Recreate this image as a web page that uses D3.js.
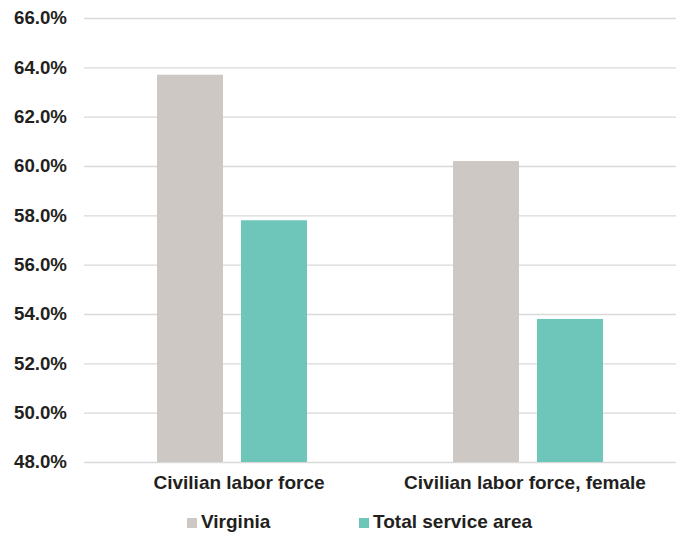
<!DOCTYPE html>
<html>
<head>
<meta charset="utf-8">
<script src="https://cdn.jsdelivr.net/npm/d3@7"></script>
<style>
  html, body { margin: 0; padding: 0; background: #fff; }
  svg { display: block; }
  text { font-family: "Liberation Sans", Arial, Helvetica, sans-serif; font-weight: bold; fill: #231f20; }
</style>
</head>
<body>
<svg id="chart" width="681" height="533"></svg>
<script>
// Labor force participation rates (%)
const categories = ["Civilian labor force", "Civilian labor force, female"];
const seriesNames = ["Virginia", "Total service area"];
const virginia = [63.7, 60.2];
const serviceArea = [57.8, 53.8];
const yTicks = [48, 50, 52, 54, 56, 58, 60, 62, 64, 66];
const colors = ["#cdc8c4", "#6dc6b9"];

const svg = d3.select("#chart");
const margin = { top: 18, right: 5, bottom: 71, left: 84 };
const width = 681 - margin.left - margin.right;
const height = 533 - margin.top - margin.bottom;
const g = svg.append("g").attr("transform", `translate(${margin.left},${margin.top})`);

const y = d3.scaleLinear().domain([48, 66]).range([height, 0]);
const x0 = d3.scaleBand().domain(categories).range([0, width]).paddingInner(0).paddingOuter(0);
const barW = 66, gap = 18;
const x1 = d3.scaleBand().domain(seriesNames).range([0, barW * 2 + gap]).paddingInner(gap / (barW + gap)).paddingOuter(0);

// Horizontal gridlines
g.append("g")
  .call(d3.axisLeft(y).tickValues(yTicks).tickSize(-width).tickFormat(""))
  .call(s => s.select(".domain").remove())
  .call(s => s.selectAll("line").attr("stroke", "#d9d9d9").attr("stroke-width", 1.3));

// Y tick labels
g.append("g")
  .call(d3.axisLeft(y).tickValues(yTicks).tickSize(0).tickPadding(17).tickFormat(d => d.toFixed(1) + "%"))
  .call(s => s.select(".domain").remove())
  .call(s => s.selectAll("text").attr("font-size", "18.7px").style("font-family", "'Liberation Sans', Arial, sans-serif").style("font-weight", "bold").attr("fill", "#231f20"));

// Bars
const rows = categories.map((c, i) => ({ category: c, values: [virginia[i], serviceArea[i]] }));
const groups = g.selectAll(".grp").data(rows).join("g")
  .attr("class", "grp")
  .attr("transform", d => `translate(${x0(d.category) + (x0.bandwidth() - x1.range()[1]) / 2},0)`);

groups.selectAll("rect")
  .data(d => d.values.map((v, j) => ({ name: seriesNames[j], value: v, j })))
  .join("rect")
  .attr("x", d => x1(d.name))
  .attr("width", x1.bandwidth())
  .attr("y", d => y(d.value))
  .attr("height", d => y(48) - y(d.value))
  .attr("fill", d => colors[d.j]);

// Category labels (small horizontal nudges keep them where the layout placed them)
const labelNudge = [7, -3];
g.append("g")
  .attr("transform", `translate(0,${height})`)
  .call(d3.axisBottom(x0).tickSize(0).tickPadding(14))
  .call(s => s.select(".domain").remove())
  .call(s => s.selectAll("text")
    .attr("font-size", "19px")
    .style("font-family", "'Liberation Sans', Arial, sans-serif")
    .style("font-weight", "bold")
    .attr("fill", "#231f20")
    .attr("dy", "0.71em")
    .attr("dx", (d, i) => labelNudge[i]));

// Legend
const legendX = [187, 359];
const legend = svg.append("g");
seriesNames.forEach((name, i) => {
  legend.append("rect")
    .attr("x", legendX[i]).attr("y", 518)
    .attr("width", 10).attr("height", 10)
    .attr("fill", colors[i]);
  legend.append("text")
    .attr("x", legendX[i] + 14).attr("y", 528)
    .attr("font-size", "19px")
    .text(name);
});
</script>
</body>
</html>
